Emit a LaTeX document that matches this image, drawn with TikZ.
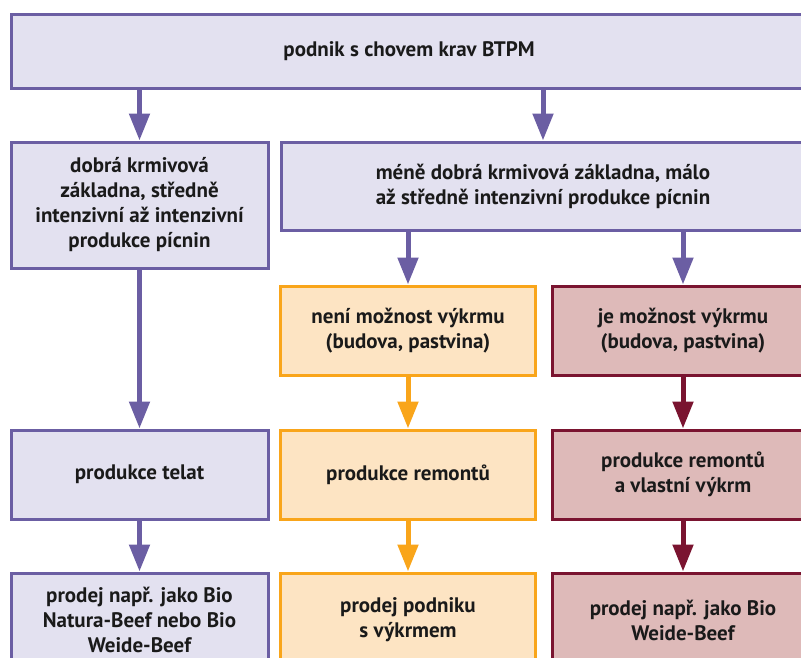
\documentclass[tikz,border=0pt]{standalone}
\usepackage{fontspec}
\setmainfont{PT Sans}
\usetikzlibrary{arrows.meta}
\definecolor{pbd}{HTML}{6B5EA3}
\definecolor{pfl}{HTML}{E3E1F0}
\definecolor{obd}{HTML}{F9A51A}
\definecolor{ofl}{HTML}{FDE4C3}
\definecolor{mbd}{HTML}{7A1430}
\definecolor{mfl}{HTML}{DEBAB9}
\definecolor{txt}{HTML}{1A1A1A}
\begin{document}
\begin{tikzpicture}[x=1pt,y=-1pt,
  box/.style={draw, line width=3pt, inner sep=0pt, align=center,
    font=\bfseries\fontsize{21}{25}\selectfont, text=txt},
  pbox/.style={box, draw=pbd, fill=pfl},
  obox/.style={box, draw=obd, fill=ofl},
  mbox/.style={box, draw=mbd, fill=mfl},
  arr/.style={line width=5pt, -{Triangle[width=20pt,length=27pt]}},
]
\useasboundingbox (0,0) rectangle (801,657);
\clip (0,0) rectangle (801,657);
\node[pbox, minimum width=796pt, minimum height=74pt] (top) at (409,51) {podnik s chovem krav BTPM};
\node[pbox, minimum width=257pt, minimum height=126pt] (l2) at (139.5,205) {dobrá krmivová\\základna, středně\\intenzivní až intenzivní\\produkce pícnin};
\node[pbox, minimum width=524pt, minimum height=88pt] (r2) at (543,186) {méně dobrá krmivová základna, málo\\až středně intenzivní produkce pícnin};
\node[obox, minimum width=255pt, minimum height=89pt] (o3) at (408,330.5) {není možnost výkrmu\\(budova, pastvina)};
\node[mbox, minimum width=262pt, minimum height=89pt] (m3) at (683,330.5) {je možnost výkrmu\\(budova, pastvina)};
\node[pbox, minimum width=257pt, minimum height=89pt] (l4) at (139.5,474.5) {produkce telat};
\node[obox, minimum width=255pt, minimum height=89pt] (o4) at (408,474.5) {produkce remontů};
\node[mbox, minimum width=262pt, minimum height=89pt] (m4) at (683,474.5) {produkce remontů\\a vlastní výkrm};
\node[pbox, minimum width=257pt, minimum height=94pt] (l5) at (139.5,620) {prodej např. jako Bio\\Natura-Beef nebo Bio\\Weide-Beef};
\node[obox, minimum width=255pt, minimum height=94pt] (o5) at (408,620) {prodej podniku\\s výkrmem};
\node[mbox, minimum width=262pt, minimum height=94pt] (m5) at (683,620) {prodej např. jako Bio\\Weide-Beef};
\draw[arr, pbd] (top.south -| l2.north) -- (l2.north);
\draw[arr, pbd] (top.south -| r2.north) -- (r2.north);
\draw[arr, pbd] (r2.south -| o3.north) -- (o3.north);
\draw[arr, pbd] (r2.south -| m3.north) -- (m3.north);
\draw[arr, pbd] (l2.south) -- (l4.north);
\draw[arr, obd] (o3.south) -- (o4.north);
\draw[arr, mbd] (m3.south) -- (m4.north);
\draw[arr, pbd] (l4.south) -- (l5.north);
\draw[arr, obd] (o4.south) -- (o5.north);
\draw[arr, mbd] (m4.south) -- (m5.north);
\end{tikzpicture}
\end{document}
